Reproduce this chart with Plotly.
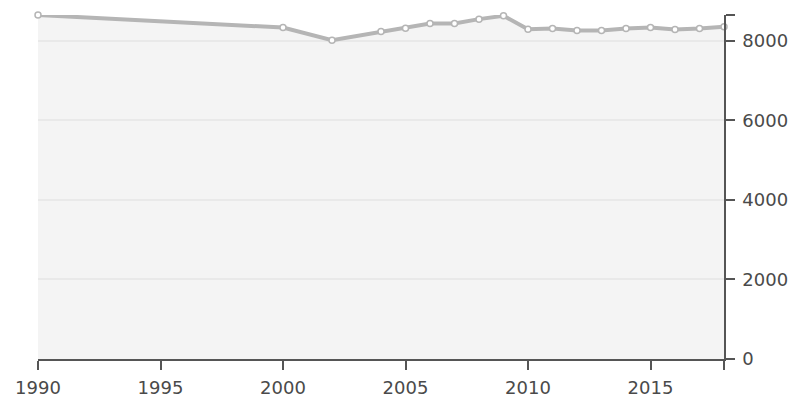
import plotly.graph_objects as go

# years and values
years = [1990, 2000, 2002, 2004, 2005, 2006, 2007, 2008, 2009,
         2010, 2011, 2012, 2013, 2014, 2015, 2016, 2017, 2018]
values = [8650, 8335, 8017, 8234, 8319, 8436, 8436, 8546, 8629,
          8294, 8310, 8259, 8259, 8310, 8335, 8284, 8310, 8352]

x_ticks = [1990, 1995, 2000, 2005, 2010, 2015, 2018]
x_labels = ["1990", "1995", "2000", "2005", "2010", "2015", ""]
y_ticks = [0, 2000, 4000, 6000, 8000, 8650]
y_labels = ["0", "2000", "4000", "6000", "8000", ""]

line_col = "#b5b5b5"
text_col = "#4a4a4a"

fig = go.Figure()
fig.add_trace(go.Scatter(
    x=years, y=values,
    mode="lines+markers",
    fill="tozeroy",
    fillcolor="rgba(180,180,180,0.15)",
    line=dict(color=line_col, width=4),
    marker=dict(size=6, color="white", line=dict(color=line_col, width=1.5)),
    cliponaxis=False,
    hoverinfo="x+y",
))

# page body adds ~8px, so the figure is a bit smaller than the window
fig.update_layout(
    width=790, height=397,
    margin=dict(l=26, r=74, t=7, b=46),
    paper_bgcolor="white",
    plot_bgcolor="white",
    showlegend=False,
    font=dict(family="DejaVu Sans", size=18, color=text_col),
    xaxis=dict(
        range=[1990, 2018],
        tickvals=x_ticks, ticktext=x_labels,
        showgrid=False, zeroline=False,
        showline=True, linecolor="#555555", linewidth=1.5,
        ticks="outside", ticklen=9, tickcolor="#555555", tickwidth=1.5,
        ticklabelstandoff=3,
    ),
    yaxis=dict(
        range=[0, 8650],
        side="right",
        tickvals=y_ticks, ticktext=y_labels,
        showgrid=True, gridcolor="#f2f2f2", gridwidth=1.5,
        zeroline=False,
        showline=True, linecolor="#555555", linewidth=1.5,
        ticks="outside", ticklen=9, tickcolor="#555555", tickwidth=1.5,
        ticklabelstandoff=4,
    ),
)

fig.write_html("out.html")
